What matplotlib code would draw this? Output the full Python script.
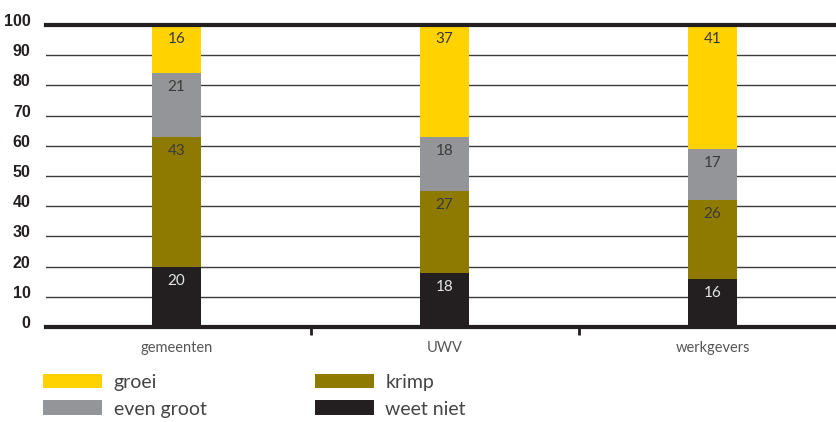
import matplotlib
matplotlib.use("Agg")
import matplotlib.pyplot as plt
import matplotlib.transforms as mtransforms
import numpy as np

# data
categories = ["gemeenten", "UWV", "werkgevers"]
weet_niet = [20, 18, 16]
krimp = [43, 27, 26]
even_groot = [21, 18, 17]
groei = [16, 37, 41]

series = [
    ("weet niet", weet_niet, "#231f20", "#e6e6e6"),
    ("krimp", krimp, "#8f7a00", "#3a3a3a"),
    ("even groot", even_groot, "#939598", "#3a3a3a"),
    ("groei", groei, "#ffd200", "#3a3a3a"),
]

plt.rcParams["font.family"] = ["Lato", "DejaVu Sans"]

fig = plt.figure(figsize=(8.37, 4.22), dpi=100)
ax = fig.add_axes([46 / 837, 1 - 327 / 422, 791 / 837, 302 / 422])

x = np.arange(len(categories))
bottom = np.zeros(len(categories))
handles = {}
for name, vals, color, tcolor in series:
    vals = np.array(vals)
    bars = ax.bar(x, vals, width=0.183, bottom=bottom, color=color, zorder=3)
    handles[name] = bars
    for xi, b, v in zip(x, bottom, vals):
        ax.annotate(str(v), (xi, b + v), xytext=(0, -5), textcoords="offset points",
                    ha="center", va="top", fontsize=11, color=tcolor, zorder=4)
    bottom += vals

ax.set_xlim(-0.487, 2.464)
ax.set_ylim(0, 100)

# gridlines
for y in range(10, 100, 10):
    ax.axhline(y, color="#3c3c3c", lw=1.0, zorder=1)
ax.axhline(100, color="#231f20", lw=3, zorder=5, clip_on=False)

for s in ["top", "right", "left"]:
    ax.spines[s].set_visible(False)
ax.spines["bottom"].set_linewidth(3)
ax.spines["bottom"].set_color("#231f20")
ax.spines["bottom"].set_zorder(5)

ax.set_yticks(range(0, 101, 10))
ax.set_yticklabels([str(v) for v in range(0, 101, 10)], fontweight="bold",
                   fontsize=11.5, color="#231f20", family="Liberation Sans")
ax.tick_params(axis="y", length=0, pad=11)
shift = mtransforms.ScaledTranslation(0, 5 / 100, fig.dpi_scale_trans)
for lbl in ax.get_yticklabels():
    lbl.set_transform(lbl.get_transform() + shift)

ax.set_xticks([0.5, 1.5])
ax.set_xticklabels([])
ax.tick_params(axis="x", direction="out", length=6, width=2, color="#231f20")
ax.set_xticks(x, minor=True)
ax.set_xticklabels(categories, minor=True, fontsize=10.5, color="#555555")
ax.tick_params(axis="x", which="minor", length=0, pad=10)

order = ["groei", "even groot", "krimp", "weet niet"]
fig.legend([handles[n] for n in order], order, ncol=2, loc="upper left",
           bbox_to_anchor=(26 / 837, 1 - 356 / 422), frameon=False,
           handlelength=3.0, handleheight=0.8, handletextpad=0.6,
           columnspacing=5.6, labelspacing=0.5, labelcolor="#444444",
           prop={"size": 14})

fig.savefig("out.png", dpi=100)
